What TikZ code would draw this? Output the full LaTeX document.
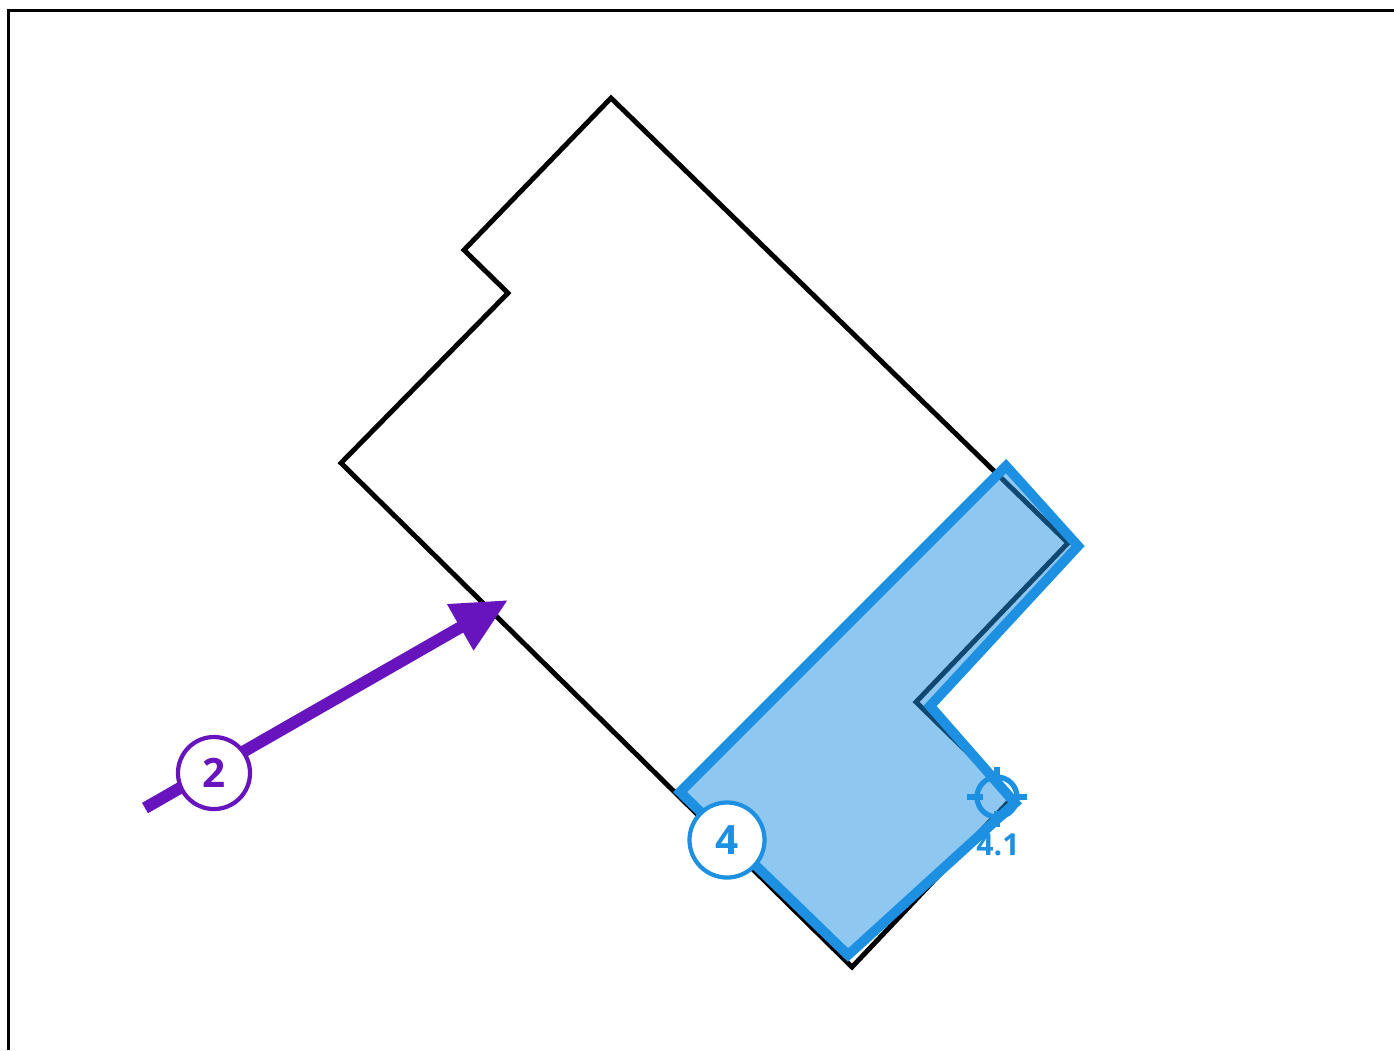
\documentclass[tikz,border=0pt]{standalone}
\usepackage{fontspec}
\setmainfont{Open Sans}
\usetikzlibrary{arrows.meta}
\definecolor{mblue}{RGB}{30,144,226}
\definecolor{mpurple}{RGB}{104,20,190}
\tikzset{
  outline/.style={draw=black,line width=1.4pt,line join=miter},
  zone/.style={draw=mblue,line width=2.8pt,fill=mblue,fill opacity=0.5,draw opacity=1,line join=miter},
  badge/.style={circle,draw=#1,line width=1.2pt,fill=white,text=#1,minimum size=0.72cm,inner sep=0pt,font=\bfseries\fontsize{11.5}{13}\selectfont},
  flow/.style={draw=mpurple,line width=3.4pt,-{Triangle[length=0.55cm,width=0.5cm]}},
  tick/.style={draw=mblue,line width=1.5pt},
}
\begin{document}
\begin{tikzpicture}[x=0.01cm,y=-0.01cm]
\useasboundingbox (0,0) rectangle (1394,1050);
% frame
\draw[line width=0.85pt] (1394,10.5) -- (8.5,10.5) -- (8.5,1050);
% building outline
\draw[outline] (611,98) -- (464,250) -- (508,293) -- (341,463) -- (852,967)
  -- (1013,797) -- (916,702) -- (1068,543) -- cycle;
% highlighted zone
\draw[zone] (1006,466) -- (1078,546) -- (930,706) -- (1015,803) -- (848,955)
  -- (680,792) -- cycle;
% arrow 2
\coordinate (a0) at (145,808);
\coordinate (a1) at (508,600);
\draw[flow] (a0) -- (a1);
\node[badge=mpurple] (b2) at (214,773) {2};
% badge 4
\node[badge=mblue,minimum size=0.75cm] (b4) at (727,840) {4};
% crosshair 4.1
\coordinate (c41) at (997,797);
\draw[mblue,line width=1.5pt] (c41) circle (20);
\draw[tick] ([xshift=-0.30cm]c41) -- ([xshift=-0.14cm]c41);
\draw[tick] ([xshift=0.30cm]c41) -- ([xshift=0.14cm]c41);
\draw[tick] ([yshift=0.30cm]c41) -- ([yshift=0.14cm]c41);
\draw[tick] ([yshift=-0.30cm]c41) -- ([yshift=-0.14cm]c41);
\node[text=mblue,font=\bfseries\fontsize{8.6}{10}\selectfont,inner sep=0pt] (l41) at (998,845) {4.1};
\end{tikzpicture}
\end{document}
